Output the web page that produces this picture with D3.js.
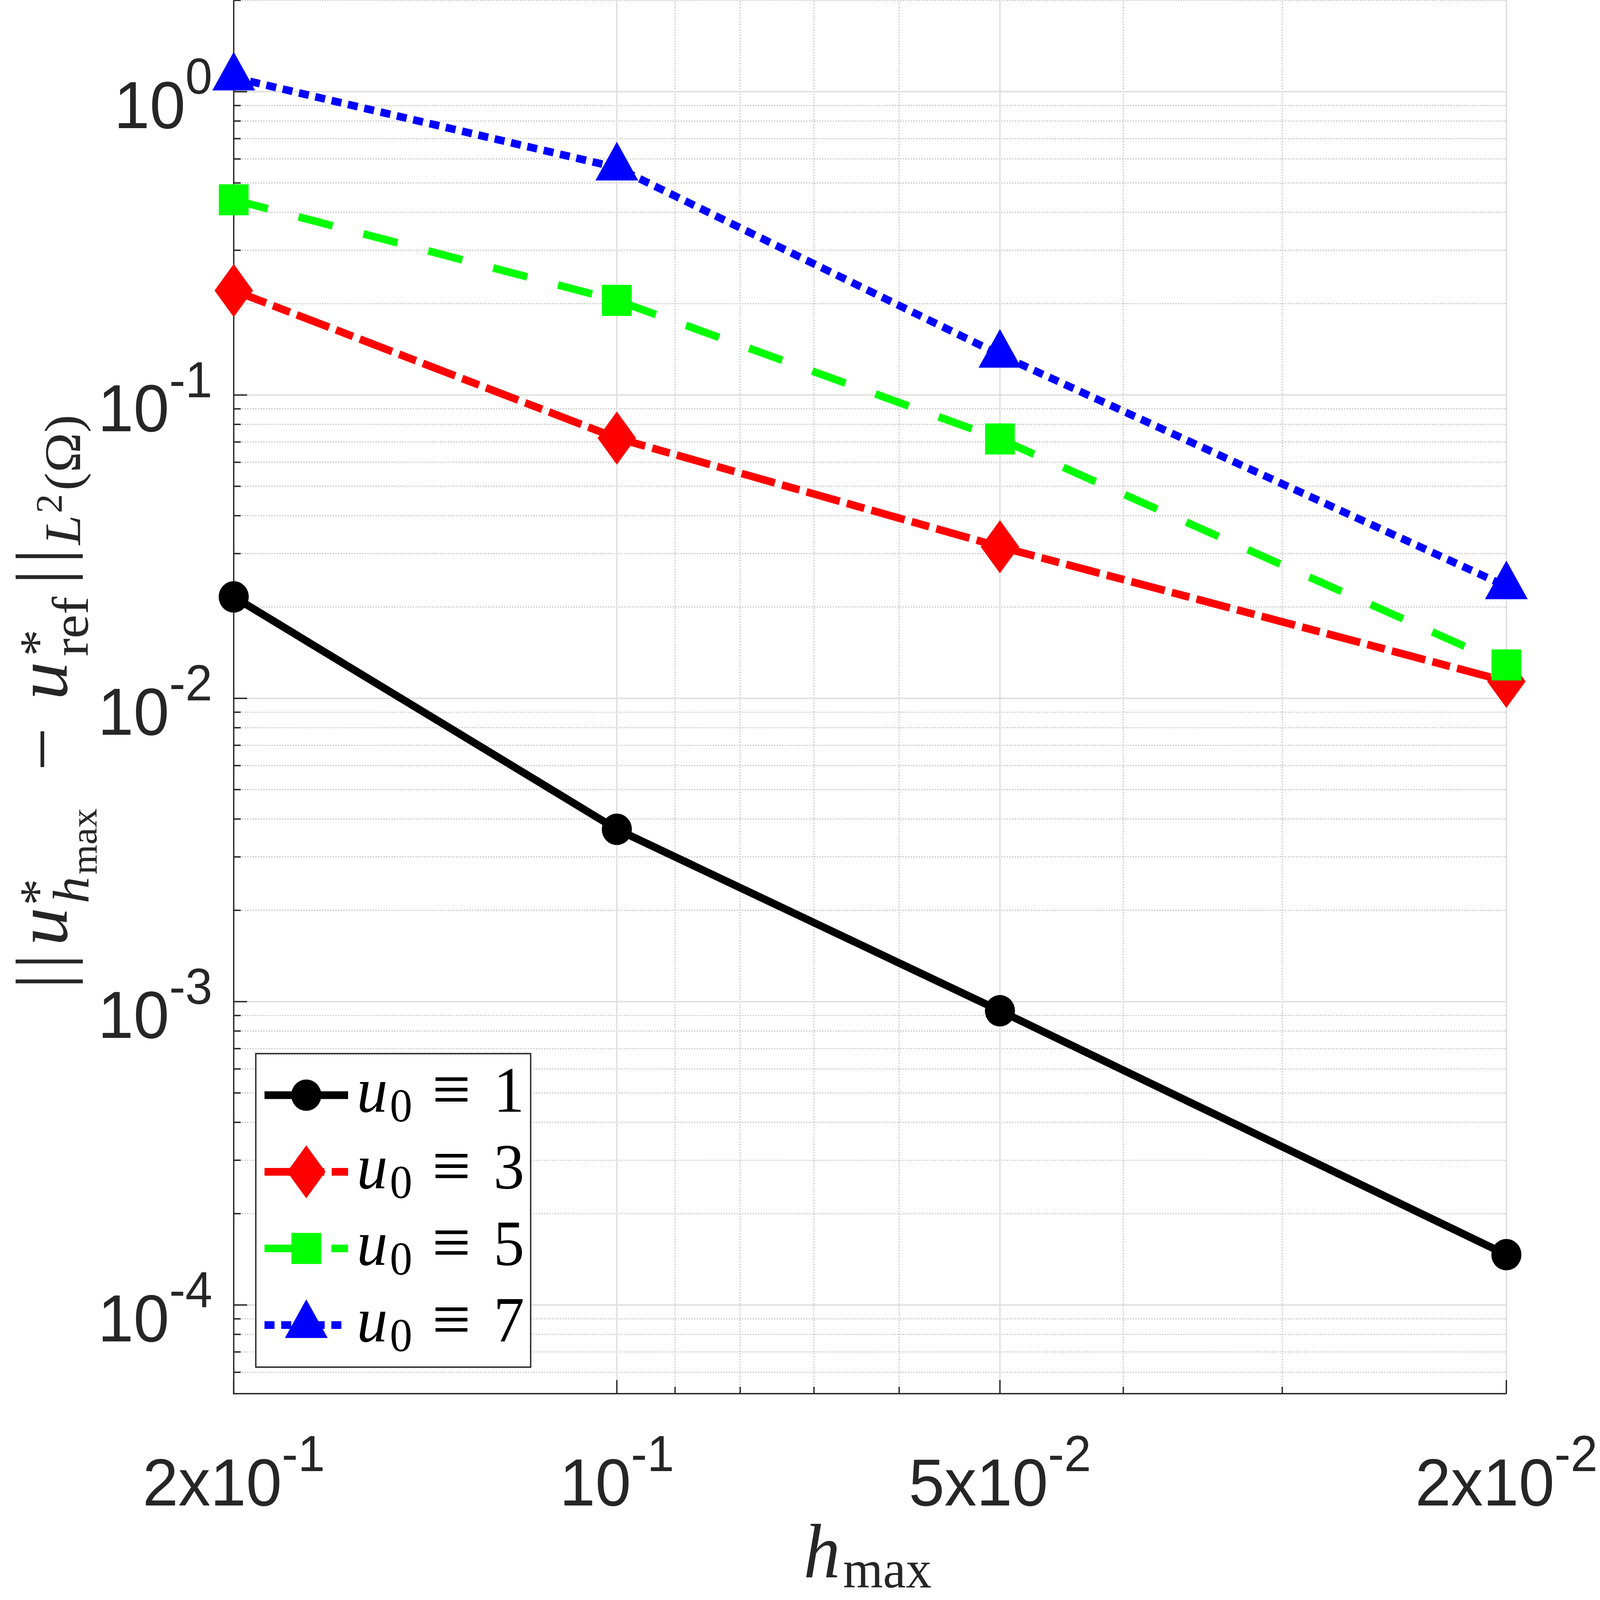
<!DOCTYPE html>
<html>
<head>
<meta charset="utf-8">
<script src="https://cdn.jsdelivr.net/npm/d3@7"></script>
<style>
  html, body { margin: 0; padding: 0; background: #fff; overflow: hidden; }
  svg { display: block; width: 100vw; height: 100vh; }
</style>
</head>
<body>
<div id="chart"></div>
<script>
// mesh size and L2 error of each initial guess
const hmax = [0.2, 0.1, 0.05, 0.02];
const errU1 = [0.0216, 0.0037, 9.33e-4, 1.465e-4];
const errU3 = [0.221, 0.0721, 0.0316, 0.01137];
const errU5 = [0.440, 0.205, 0.0716, 0.01288];
const errU7 = [1.113, 0.562, 0.1357, 0.0234];
const seriesLabels = ["1", "3", "5", "7"];

const xTickValues = [0.2, 0.1, 0.05, 0.02];
const xTickLabels = [["2x10", "-1"], ["10", "-1"], ["5x10", "-2"], ["2x10", "-2"]];
const yTickValues = [1, 0.1, 0.01, 0.001, 0.0001];
const yTickLabels = [["10", "0"], ["10", "-1"], ["10", "-2"], ["10", "-3"], ["10", "-4"]];

const width = 4785, height = 4583;
const axisColor = "#262626";
const sansFont = "'Liberation Sans', Arial, Helvetica, sans-serif";
const serifFont = "'Liberation Serif', 'Times New Roman', serif";

const x = d3.scaleLog().domain([0.2, 0.02]).range([699, 4505]);
const y = d3.scaleLog().domain([5.1e-5, 2]).range([3992, 1]);

// viewBox filling the whole window
const svg = d3.select("#chart").append("svg")
    .attr("viewBox", "0 0 " + width + " " + height)
    .attr("preserveAspectRatio", "none");

// grid
const yMinor = [];
for (let e = -5; e <= 0; e++) {
    for (let k = 2; k <= 9; k++) {
        const v = k * Math.pow(10, e);
        if (v >= y.domain()[0] && v <= y.domain()[1]) yMinor.push(v);
    }
}
const xMinor = [0.03, 0.04, 0.06, 0.07, 0.08, 0.09];

const grid = svg.append("g").attr("class", "grid");
grid.selectAll(".ygm").data(yMinor).enter().append("line")
    .attr("x1", x.range()[0]).attr("x2", x.range()[1])
    .attr("y1", d => y(d)).attr("y2", d => y(d))
    .attr("stroke", "#c4c4c4").attr("stroke-width", 3).attr("stroke-dasharray", "4,4");
grid.selectAll(".xgm").data(xMinor).enter().append("line")
    .attr("x1", d => x(d)).attr("x2", d => x(d))
    .attr("y1", y.range()[0]).attr("y2", y.range()[1])
    .attr("stroke", "#c4c4c4").attr("stroke-width", 3).attr("stroke-dasharray", "4,4");
grid.selectAll(".ygM").data(yTickValues).enter().append("line")
    .attr("x1", x.range()[0]).attr("x2", x.range()[1])
    .attr("y1", d => y(d)).attr("y2", d => y(d))
    .attr("stroke", "#dedede").attr("stroke-width", 4);
grid.selectAll(".xgM").data(xTickValues.slice(1)).enter().append("line")
    .attr("x1", d => x(d)).attr("x2", d => x(d))
    .attr("y1", y.range()[0]).attr("y2", y.range()[1])
    .attr("stroke", "#dedede").attr("stroke-width", 4);

// axes (inward ticks, no box)
const ax = svg.append("g").attr("stroke", axisColor).attr("stroke-width", 4);
ax.append("line").attr("x1", x.range()[0]).attr("x2", x.range()[0])
    .attr("y1", y.range()[1]).attr("y2", y.range()[0] + 2);
ax.append("line").attr("x1", x.range()[0] - 2).attr("x2", x.range()[1])
    .attr("y1", y.range()[0]).attr("y2", y.range()[0]);
ax.selectAll(".ytM").data(yTickValues).enter().append("line")
    .attr("x1", x.range()[0]).attr("x2", x.range()[0] + 40)
    .attr("y1", d => y(d)).attr("y2", d => y(d));
ax.selectAll(".ytm").data(yMinor).enter().append("line")
    .attr("x1", x.range()[0]).attr("x2", x.range()[0] + 21)
    .attr("y1", d => y(d)).attr("y2", d => y(d));
ax.selectAll(".xtM").data(xTickValues).enter().append("line")
    .attr("x1", d => x(d)).attr("x2", d => x(d))
    .attr("y1", y.range()[0]).attr("y2", y.range()[0] - 39);
ax.selectAll(".xtm").data(xMinor).enter().append("line")
    .attr("x1", d => x(d)).attr("x2", d => x(d))
    .attr("y1", y.range()[0]).attr("y2", y.range()[0] - 20);

// tick labels
function powLabel(sel, parts) {
    sel.append("tspan").text(parts[0]);
    sel.append("tspan").attr("font-size", 145).attr("dy", -98).text(parts[1]);
}
svg.selectAll(".ylab").data(yTickValues).enter().append("text")
    .attr("x", 635).attr("y", d => y(d) + 104)
    .attr("text-anchor", "end")
    .attr("font-family", sansFont).attr("font-size", 192).attr("fill", axisColor)
    .each(function(d, i) { powLabel(d3.select(this), yTickLabels[i]); });
svg.selectAll(".xlab").data(xTickValues).enter().append("text")
    .attr("x", d => x(d)).attr("y", 4312)
    .attr("text-anchor", "middle")
    .attr("font-family", sansFont).attr("font-size", 192).attr("fill", axisColor)
    .each(function(d, i) { powLabel(d3.select(this), xTickLabels[i]); });

// x label h_max
const xl = svg.append("g").attr("font-family", serifFont).attr("fill", axisColor);
xl.append("text").attr("x", 2403).attr("y", 4518).attr("font-size", 220)
    .attr("font-style", "italic").text("h");
xl.append("text").attr("x", 2521).attr("y", 4547).attr("font-size", 154).text("max");

// y label ||u*_hmax - u*_ref||_L2(Omega), rotated
const yLabelParts = [
    { t: "|", dx: -2811, dy: 0, s: 220, a: "middle" },
    { t: "|", dx: -2754, dy: 0, s: 220, a: "middle" },
    { t: "u", dx: -2709, dy: 0, s: 220, it: true },
    { t: "*", dx: -2594, dy: -35, s: 154 },
    { t: "h", dx: -2588, dy: 65, s: 154, it: true },
    { t: "max", dx: -2505, dy: 88, s: 110 },
    { t: "\u2212", dx: -2146, dy: 0, s: 220, a: "middle" },
    { t: "u", dx: -2005, dy: 0, s: 220, it: true },
    { t: "*", dx: -1880, dy: -35, s: 154 },
    { t: "ref", dx: -1880, dy: 63, s: 154 },
    { t: "|", dx: -1653, dy: 0, s: 220, a: "middle" },
    { t: "|", dx: -1593, dy: 0, s: 220, a: "middle" },
    { t: "L", dx: -1561, dy: 40, s: 154, it: true },
    { t: "2", dx: -1470, dy: -15, s: 110 },
    { t: "(\u03A9)", dx: -1405, dy: 40, s: 154 }
];
const yl = svg.append("g")
    .attr("transform", "translate(200,0) rotate(-90)")
    .attr("font-family", serifFont).attr("fill", axisColor);
yl.selectAll("text").data(yLabelParts).enter().append("text")
    .attr("x", d => d.dx).attr("y", d => d.dy)
    .attr("font-size", d => d.s)
    .attr("font-style", d => d.it ? "italic" : "normal")
    .attr("text-anchor", d => d.a || "start")
    .text(d => d.t);

// series
const markerPaths = {
    circle: d3.symbol(d3.symbolCircle, Math.PI * 45 * 45)(),
    square: d3.symbol(d3.symbolSquare, 89 * 89)(),
    triangle: d3.symbol(d3.symbolTriangle, 7094)(),
    diamond: "M0,-76L57.5,0L0,76L-57.5,0Z"
};
const series = [
    { values: errU1, color: "#000000", dash: null, marker: "circle" },
    { values: errU3, color: "#ff0000", dash: "103,22,54,22", marker: "diamond" },
    { values: errU5, color: "#00ff00", dash: "105,95", marker: "square" },
    { values: errU7, color: "#0000ff", dash: "30,20", marker: "triangle" }
];

const line = d3.line().x(d => x(d[0])).y(d => y(d[1]));

series.forEach(s => {
    const pts = hmax.map((h, i) => [h, s.values[i]]);
    const g = svg.append("g");
    g.append("path")
        .attr("d", line(pts))
        .attr("fill", "none")
        .attr("stroke", s.color)
        .attr("stroke-width", 22)
        .attr("stroke-linejoin", "round")
        .attr("stroke-dasharray", s.dash);
    g.selectAll("path.mk").data(pts).enter().append("path")
        .attr("class", "mk")
        .attr("d", markerPaths[s.marker])
        .attr("transform", d => "translate(" + x(d[0]) + "," + y(d[1]) + ")")
        .attr("fill", s.color);
});

// legend
const legend = svg.append("g");
legend.append("rect")
    .attr("x", 765).attr("y", 3018).attr("width", 822).attr("height", 898)
    .attr("fill", "#fff").attr("stroke", axisColor).attr("stroke-width", 4);
series.forEach((s, i) => {
    const cy = 3137 + i * 219.5;
    const row = legend.append("g");
    row.append("line")
        .attr("x1", 791).attr("x2", 1041).attr("y1", cy).attr("y2", cy)
        .attr("stroke", s.color).attr("stroke-width", 22)
        .attr("stroke-dasharray", s.dash);
    row.append("path")
        .attr("d", markerPaths[s.marker])
        .attr("transform", "translate(916," + cy + ")")
        .attr("fill", s.color);
    const t = row.append("g").attr("font-family", serifFont).attr("fill", "#000");
    t.append("text").attr("x", 1067).attr("y", cy + 47).attr("font-size", 185)
        .attr("font-style", "italic").text("u");
    t.append("text").attr("x", 1166).attr("y", cy + 75).attr("font-size", 134).text("0");
    t.append("text").attr("x", 1350).attr("y", cy + 52).attr("font-size", 205)
        .attr("text-anchor", "middle").text("\u2261");
    t.append("text").attr("x", 1522).attr("y", cy + 47).attr("font-size", 185)
        .attr("text-anchor", "middle").text(seriesLabels[i]);
});
</script>
</body>
</html>
